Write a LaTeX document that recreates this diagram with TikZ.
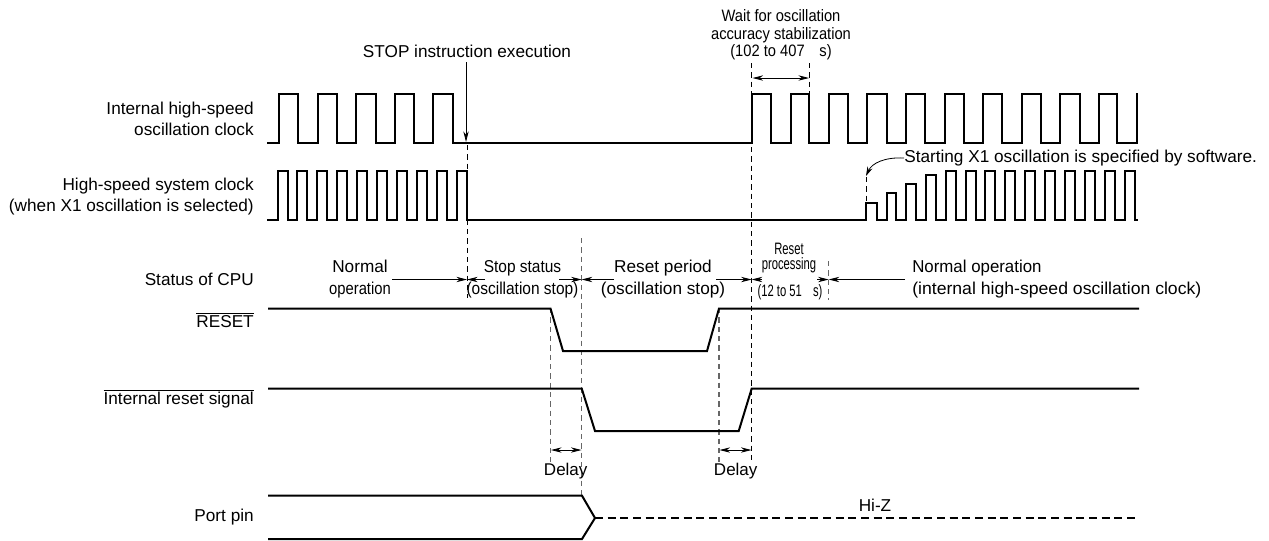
\documentclass[tikz,border=0pt]{standalone}
\usepackage{fontspec}
\setmainfont{Liberation Sans}
\usetikzlibrary{arrows.meta}
\tikzset{
  sig/.style={line width=1.5pt,line join=miter,line cap=butt},
  guide/.style={line width=0.6pt,dash pattern=on 4pt off 3pt},
  guideg/.style={guide,draw=black!60,line width=0.8pt},
  dim/.style={line width=0.6pt,-{Stealth[length=8pt,width=4pt]}},
  dimb/.style={line width=0.6pt,{Stealth[length=8pt,width=4pt]}-{Stealth[length=8pt,width=4pt]}},
  lab/.style={inner sep=0pt,font=\fontsize{12.9}{15.75}\selectfont,align=right,anchor=east},
  txt/.style={inner sep=0pt,font=\fontsize{12.9}{16.5}\selectfont,align=center},
}
\newcommand{\narrowtxt}[2]{\scalebox{#1}[1]{#2}}
\begin{document}
\begin{tikzpicture}[x=0.75pt,y=-0.75pt]
\useasboundingbox (0,0) rectangle (1269,540);
% guides
\draw[guide] (467,145) -- (467,298);
\draw[guide] (751.7,63) -- (751.7,461);
\draw[guide] (809.5,63) -- (809.5,94);
\draw[guideg] (581.7,238) -- (581.7,496);
\draw[guideg] (550.5,308) -- (550.5,462);
\draw[guideg] (719,308) -- (719,462);
\draw[guideg] (828.7,261) -- (828.7,300);
\draw[guide] (866,177) -- (866,203);
% internal clock
\draw[sig] (267,142.5) foreach \x in {279,317.6,356.2,394.8,433.4} { -| (\x,94) -| (\x+19.3,142.5) }
  -| (752,94) foreach \x in {752,790.3,828.9,867.5,906.1,944.7,983.3,1021.9,1060.5,1098.3} { -| (\x+19,142.5) -| (\x+38.5,94) } -- (1137.3,94);
% system clock
\draw[sig] (267,220) foreach \x in {277.5,297,317,337,357,377,397,417,437,457} { -| (\x,170.7) -| (\x+10,220) } -| (866,203) -| (877,220) -| (887,193) -| (896,220) -| (906,184) -| (916,220) -| (926,175) -| (936,220)
  foreach \x in {946,966,985,1005,1025,1045,1065,1085,1105,1125} { -| (\x,170.7) -| (\x+10,220) } -- (1138,220);
% reset
\draw[sig] (268,308.5) -- (550.5,308.5) -- (563,351) -- (707,351) -- (719,308.5) -- (1139,308.5);
\draw[sig] (268,388.5) -- (581.7,388.5) -- (595,431) -- (738.7,431) -- (751.7,388.5) -- (1139,388.5);
\draw[sig] (268,495.7) -- (582,495.7) -- (595,518) -- (582,539) -- (268,539);
\draw[sig,dash pattern=on 6pt off 3.5pt] (595,518) -- (1139,518);
% labels
\node[lab] (l1) at (254,118.5) {Internal high-speed\\oscillation clock};
\node[lab] (l2) at (254,196.5) {High-speed system clock\\(when X1 oscillation is selected)};
\node[lab] (l3) at (254,279) {Status of CPU};
\node[lab] (l4) at (254,320) {$\overline{\hbox{RESET}}$};
\node[lab] (l5) at (254,399) {$\overline{\hbox{Internal reset signal}}$};
\node[lab] (l6) at (254,517) {Port pin};
\node[txt] (stop) at (467,51) {STOP instruction execution};
\coordinate (stopa) at (466,62);
\coordinate (stopb) at (466,142);
\draw[dim] (stopa) -- (stopb);
\node[inner sep=0pt,align=center,font=\fontsize{12.4}{13.2}\selectfont] (wait) at (781,35) {\narrowtxt{0.89}{Wait for oscillation}\\\narrowtxt{0.89}{accuracy stabilization}\\\narrowtxt{0.89}{(102 to 407\hspace{1em}s)}};
\coordinate (wa) at (752.5,78); \coordinate (wb) at (809,78);
\draw[dimb] (wa) -- (wb);
% status
\node[txt] (n1) at (360,279) {Normal\\\narrowtxt{0.86}{operation}};
\node[txt] (n2) at (522.5,279) {\narrowtxt{0.9}{Stop status}\\\narrowtxt{0.9}{(oscillation stop)}};
\node[txt] (n3) at (663,279) {Reset period\\(oscillation stop)};
\node[inner sep=0pt,align=center,font=\fontsize{12.4}{11.25}\selectfont] (n4) at (789,258.5) {\narrowtxt{0.68}{Reset}\\\narrowtxt{0.68}{processing}};
\node[inner sep=0pt,font=\fontsize{12.4}{11.25}\selectfont] (n5) at (790,292) {\narrowtxt{0.68}{(12 to 51\hspace{1em}s)}};
\node[txt,anchor=west,align=left] (n6) at (912,279) {\narrowtxt{0.98}{Normal operation}\\\narrowtxt{1.025}{(internal high-speed oscillation clock)}};
\coordinate (p0) at (392,279.5); \coordinate (p1) at (467,279.5); \coordinate (p2) at (485,279.5);
\coordinate (p3) at (559,279.5); \coordinate (p4) at (581.7,279.5); \coordinate (p5) at (614,279.5);
\coordinate (p6) at (716,279.5); \coordinate (p7) at (751.7,279.5); \coordinate (p8) at (762,279.5);
\coordinate (p9) at (817,279.5); \coordinate (p10) at (828.7,279.5); \coordinate (p11) at (905,279.5);
\draw[dim] (p0) -- (p1); \draw[dim] (p2) -- (p1);
\draw[dim] (p3) -- (p4); \draw[dim] (p5) -- (p4);
\draw[dim] (p6) -- (p7); \draw[dim] (p8) -- (p7);
\draw[dim] (p9) -- (p10); \draw[dim] (p11) -- (p10);
% delay
\node[txt,font=\fontsize{12.75}{15}\selectfont] (d1) at (565.7,470.7) {Delay};
\node[txt,font=\fontsize{12.75}{15}\selectfont] (d2) at (735.7,471.5) {Delay};
\coordinate (da) at (551,450); \coordinate (db) at (581.5,450);
\coordinate (dc) at (719.5,450); \coordinate (dd) at (751.5,450);
\draw[dimb] (da) -- (db);
\draw[dimb] (dc) -- (dd);
\node[txt] (hz) at (875,505) {Hi-Z};
% note
\node[txt,anchor=west] (note) at (904,158) {Starting X1 oscillation is specified by software.};
\coordinate (nt) at (866,176);
\draw[line width=0.6pt,-{Stealth[length=7pt,width=4pt]}] (note.west) .. controls (885,157) and (872,163) .. (nt);
\end{tikzpicture}
\end{document}
